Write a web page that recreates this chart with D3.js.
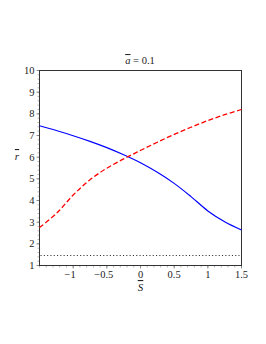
<!DOCTYPE html>
<html>
<head>
<meta charset="utf-8">
<script src="https://cdn.jsdelivr.net/npm/d3@7"></script>
<style>
  body { margin: 0; background: #fff; }
  text { font-family: "Liberation Serif", "DejaVu Serif", serif; fill: #222; }
</style>
</head>
<body>
<svg id="chart" width="266" height="344"></svg>
<script>
// data
let sValues = [-1.5, -1.25, -1.0, -0.75, -0.5, -0.25, 0, 0.25, 0.5, 0.75, 1.0, 1.25, 1.5];
let blueR = [7.45, 7.23, 6.99, 6.73, 6.44, 6.11, 5.74, 5.30, 4.79, 4.18, 3.52, 3.02, 2.64];
let redR = [2.75, 3.40, 4.25, 4.96, 5.49, 5.92, 6.31, 6.69, 7.05, 7.38, 7.69, 7.96, 8.20];
let floorR = 1.46;
let xTicks = [-1, -0.5, 0, 0.5, 1, 1.5];
let yTicks = [1, 2, 3, 4, 5, 6, 7, 8, 9, 10];

let svg = d3.select("#chart");
let mLeft = 39.5, mRight = 241.5, mTop = 70.5, mBottom = 265.5;

let x = d3.scaleLinear().domain([-1.5, 1.5]).range([mLeft, mRight]);
let y = d3.scaleLinear().domain([1, 10]).range([mBottom, mTop]);

// minor ticks
let minorX = d3.range(-1.5, 1.501, 0.1);
svg.append("g").selectAll("line").data(minorX).enter().append("line")
    .attr("x1", d => x(d)).attr("x2", d => x(d))
    .attr("y1", mBottom).attr("y2", mBottom + 2)
    .attr("stroke", "#999").attr("stroke-width", 0.7);
let minorY = d3.range(1, 10.001, 0.2);
svg.append("g").selectAll("line").data(minorY).enter().append("line")
    .attr("x1", mLeft - 2).attr("x2", mLeft)
    .attr("y1", d => y(d)).attr("y2", d => y(d))
    .attr("stroke", "#999").attr("stroke-width", 0.7);

// major ticks + labels
let fmt = d => (d < 0 ? "\u2212" : "") + Math.abs(d);
let xg = svg.append("g");
xg.selectAll("line").data(xTicks).enter().append("line")
    .attr("x1", d => x(d)).attr("x2", d => x(d))
    .attr("y1", mBottom).attr("y2", mBottom + 3)
    .attr("stroke", "#777").attr("stroke-width", 0.8);
xg.selectAll("text").data(xTicks).enter().append("text")
    .attr("x", d => x(d) - (d < 0 ? 3 : 0)).attr("y", mBottom + 12)
    .attr("text-anchor", "middle").attr("font-size", 10.5)
    .text(fmt);

let yg = svg.append("g");
yg.selectAll("line").data(yTicks).enter().append("line")
    .attr("x1", mLeft - 3).attr("x2", mLeft)
    .attr("y1", d => y(d)).attr("y2", d => y(d))
    .attr("stroke", "#777").attr("stroke-width", 0.8);
yg.selectAll("text").data(yTicks).enter().append("text")
    .attr("x", mLeft - 5).attr("y", d => y(d) + 3.6)
    .attr("text-anchor", "end").attr("font-size", 10.5)
    .text(d => d);

// frame
svg.append("rect")
    .attr("x", mLeft).attr("y", mTop)
    .attr("width", mRight - mLeft).attr("height", mBottom - mTop)
    .attr("fill", "none").attr("stroke", "#333").attr("stroke-width", 1);

// curves
let line = d3.line().x(d => x(d[0])).y(d => y(d[1])).curve(d3.curveCatmullRom.alpha(0.5));

svg.append("path")
    .datum(sValues.map((s, i) => [s, blueR[i]]))
    .attr("d", line)
    .attr("fill", "none").attr("stroke", "#0000ff").attr("stroke-width", 1.2);

svg.append("path")
    .datum(sValues.map((s, i) => [s, redR[i]]))
    .attr("d", line)
    .attr("fill", "none").attr("stroke", "#ff0000").attr("stroke-width", 1.3)
    .attr("stroke-dasharray", "5,2.5");

svg.append("line")
    .attr("x1", x(-1.5) + 1).attr("x2", x(1.5) - 2)
    .attr("y1", y(floorR)).attr("y2", y(floorR))
    .attr("stroke", "#333").attr("stroke-width", 1.1)
    .attr("stroke-dasharray", "1.1,2.2");

// title and axis labels
let title = svg.append("text")
    .attr("x", 140).attr("y", 64)
    .attr("text-anchor", "middle").attr("font-size", 10.5);
title.append("tspan").attr("font-style", "italic").attr("text-decoration", "overline").text("a");
title.append("tspan").text(" = 0.1");

svg.append("text")
    .attr("x", 17).attr("y", 160)
    .attr("text-anchor", "middle").attr("font-size", 11)
    .attr("font-style", "italic").attr("text-decoration", "overline")
    .text("r");

svg.append("text")
    .attr("x", x(0)).attr("y", 291)
    .attr("text-anchor", "middle").attr("font-size", 11)
    .attr("font-style", "italic").attr("text-decoration", "overline")
    .text("S");
</script>
</body>
</html>
